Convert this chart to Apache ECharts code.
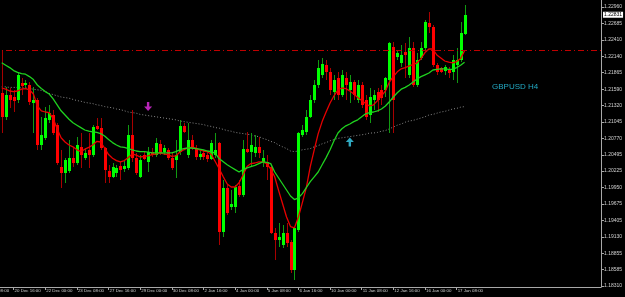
<!DOCTYPE html>
<html>
<head>
<meta charset="utf-8">
<script src="https://cdn.jsdelivr.net/npm/echarts@6/dist/echarts.min.js"></script>
<style>
html,body{margin:0;padding:0;background:#000;}
#chart{width:625px;height:297px;}
</style>
</head>
<body>
<div id="chart"></div>
<script>
// ---- data (GBPUSD H4) ----
const tickLabels = ["19 Dec 08:00","20 Dec 16:00","22 Dec 00:00","23 Dec 08:00","27 Dec 16:00","29 Dec 00:00","30 Dec 08:00","2 Jan 16:00","4 Jan 00:00","5 Jan 08:00","6 Jan 16:00","10 Jan 00:00","11 Jan 08:00","12 Jan 16:00","16 Jan 00:00","17 Jan 08:00"];
const priceTicks = [1.22960,1.22685,1.22410,1.22140,1.21865,1.21590,1.21320,1.21045,1.20770,1.20495,1.20225,1.19950,1.19675,1.19405,1.19130,1.18855,1.18585,1.18310];
const lastPrice = 1.22831;
const levelLine = 1.22247;
// [open, close, low, high]
const ohlc = [
[1.2153,1.2113,1.2086,1.2225],[1.2113,1.2150,1.2108,1.2163],[1.2150,1.2141,1.2128,1.2161],[1.2146,1.2140,1.2121,1.2158],
[1.2141,1.2183,1.2136,1.2186],[1.2170,1.2165,1.2150,1.2178],[1.2166,1.2170,1.2161,1.2175],[1.2166,1.2138,1.2133,1.2171],
[1.2136,1.2141,1.2086,1.2163],[1.2141,1.2066,1.2058,1.2145],[1.2066,1.2083,1.2058,1.2113],[1.2078,1.2111,1.2075,1.2130],
[1.2108,1.2120,1.2103,1.2133],[1.2116,1.2086,1.2083,1.2125],[1.2100,1.2036,1.2033,1.2103],[1.2030,1.2020,1.1995,1.2058],
[1.2020,1.2041,1.2003,1.2045],[1.2023,1.2045,1.2020,1.2075],[1.2045,1.2036,1.2030,1.2063],[1.2036,1.2066,1.2033,1.2080],
[1.2063,1.2050,1.2028,1.2086],[1.2045,1.2053,1.2041,1.2061],[1.2058,1.2050,1.2028,1.2086],[1.2050,1.2096,1.2046,1.2100],
[1.2098,1.2093,1.2091,1.2111],[1.2095,1.2061,1.2058,1.2111],[1.2061,1.2025,1.2003,1.2063],[1.2023,1.2013,1.2003,1.2033],
[1.2013,1.2030,1.2011,1.2036],[1.2020,1.2028,1.2013,1.2033],[1.2031,1.2025,1.2008,1.2038],[1.2026,1.2031,1.2021,1.2041],
[1.2028,1.2083,1.2025,1.2100],[1.2083,1.2045,1.2038,1.2125],[1.2045,1.2020,1.2016,1.2053],[1.2013,1.2041,1.2011,1.2050],
[1.2050,1.2043,1.2041,1.2055],[1.2038,1.2055,1.2021,1.2063],[1.2055,1.2050,1.2046,1.2061],[1.2050,1.2070,1.2046,1.2078],
[1.2068,1.2053,1.2050,1.2075],[1.2055,1.2061,1.2050,1.2066],[1.2058,1.2045,1.2041,1.2061],[1.2045,1.2028,1.2025,1.2053],
[1.2041,1.2050,1.2011,1.2075],[1.2055,1.2098,1.2050,1.2108],[1.2098,1.2088,1.2086,1.2103],[1.2050,1.2075,1.2045,1.2103],
[1.2075,1.2063,1.2058,1.2083],[1.2061,1.2046,1.2041,1.2066],[1.2046,1.2051,1.2041,1.2058],[1.2053,1.2046,1.2041,1.2058],
[1.2050,1.2043,1.2038,1.2055],[1.2043,1.2070,1.2041,1.2075],[1.2050,1.2058,1.2045,1.2086],[1.2070,1.1921,1.1900,1.2071],
[1.1921,1.1995,1.1913,1.2008],[1.1995,1.1953,1.1950,1.2000],[1.1963,1.1968,1.1958,1.1991],[1.1963,1.1996,1.1953,1.2000],
[1.1998,1.1983,1.1980,1.2008],[1.1983,1.2060,1.1980,1.2075],[1.2060,1.2055,1.2053,1.2088],[1.2055,1.2066,1.2030,1.2086],
[1.2053,1.2063,1.2046,1.2083],[1.2063,1.2053,1.2045,1.2080],[1.2038,1.2045,1.2030,1.2058],[1.2038,1.2030,1.2008,1.2050],
[1.2030,1.1920,1.1918,1.2033],[1.1920,1.1908,1.1875,1.1928],[1.1908,1.1913,1.1896,1.1936],[1.1900,1.1920,1.1895,1.1933],
[1.1920,1.1903,1.1896,1.1936],[1.1905,1.1858,1.1853,1.1908],[1.1858,1.1928,1.1841,1.1930],[1.1925,1.2086,1.1921,1.2088],
[1.2083,1.2091,1.2080,1.2100],[1.2088,1.2113,1.2083,1.2125],[1.2113,1.2141,1.2111,1.2150],[1.2141,1.2166,1.2136,1.2175],
[1.2166,1.2195,1.2161,1.2208],[1.2183,1.2201,1.2178,1.2211],[1.2200,1.2188,1.2175,1.2208],[1.2188,1.2158,1.2150,1.2195],
[1.2155,1.2175,1.2141,1.2183],[1.2178,1.2150,1.2141,1.2188],[1.2150,1.2183,1.2146,1.2191],[1.2178,1.2166,1.2141,1.2188],
[1.2158,1.2171,1.2136,1.2183],[1.2171,1.2150,1.2141,1.2175],[1.2141,1.2166,1.2136,1.2175],[1.2166,1.2133,1.2128,1.2171],
[1.2141,1.2113,1.2108,1.2150],[1.2116,1.2146,1.2103,1.2161],[1.2141,1.2150,1.2125,1.2158],[1.2155,1.2141,1.2121,1.2161],
[1.2158,1.2145,1.2133,1.2166],[1.2158,1.2178,1.2146,1.2180],[1.2175,1.2236,1.2086,1.2238],[1.2230,1.2141,1.2086,1.2238],
[1.2213,1.2220,1.2208,1.2225],[1.2203,1.2216,1.2196,1.2233],[1.2221,1.2216,1.2178,1.2236],[1.2183,1.2228,1.2178,1.2246],
[1.2228,1.2166,1.2163,1.2238],[1.2166,1.2208,1.2163,1.2220],[1.2211,1.2228,1.2208,1.2238],[1.2228,1.2271,1.2225,1.2275],
[1.2270,1.2263,1.2253,1.2288],[1.2263,1.2200,1.2196,1.2266],[1.2200,1.2188,1.2183,1.2203],[1.2195,1.2188,1.2186,1.2196],
[1.2190,1.2196,1.2183,1.2200],[1.2193,1.2186,1.2178,1.2196],[1.2188,1.2208,1.2175,1.2216],[1.2200,1.2208,1.2170,1.2228],
[1.2208,1.2253,1.2205,1.2271],[1.2251,1.22831,1.2250,1.2300]
];
const maFast = [1.2161,1.2159,1.2156,1.2155,1.2156,1.2159,1.2160,1.2158,1.2151,1.2131,1.2123,1.2121,1.2120,1.2110,1.2093,1.2078,1.2071,1.2066,1.2063,1.2058,
1.2055,1.2059,1.2062,1.2066,1.2072,1.2071,1.2061,1.2050,1.2044,1.2040,1.2038,1.2040,1.2045,1.2051,1.2049,1.2046,1.2047,1.2048,1.2050,1.2051,
1.2053,1.2051,1.2050,1.2047,1.2048,1.2054,1.2058,1.2061,1.2062,1.2061,1.2058,1.2056,1.2055,1.2050,1.2038,1.2026,1.2013,1.2001,1.1996,1.1996,
1.2003,1.2016,1.2030,1.2035,1.2036,1.2038,1.2038,1.2035,1.2026,1.2013,1.1990,1.1968,1.1946,1.1930,1.1928,1.1946,1.1970,1.1995,1.2030,1.2058,
1.2085,1.2105,1.2121,1.2136,1.2148,1.2158,1.2161,1.2160,1.2156,1.2151,1.2145,1.2140,1.2135,1.2131,1.2133,1.2140,1.2148,1.2156,1.2171,1.2180,
1.2188,1.2193,1.2195,1.2198,1.2200,1.2203,1.2210,1.2220,1.2226,1.2226,1.2216,1.2211,1.2206,1.2204,1.2203,1.2205,1.2210,1.2223];
const maMid = [1.2203,1.2199,1.2195,1.2190,1.2187,1.2185,1.2184,1.2180,1.2175,1.2166,1.2160,1.2155,1.2151,1.2143,1.2133,1.2123,1.2116,1.2109,1.2103,1.2099,
1.2095,1.2091,1.2089,1.2088,1.2087,1.2085,1.2081,1.2075,1.2070,1.2066,1.2063,1.2062,1.2060,1.2058,1.2056,1.2055,1.2055,1.2054,1.2053,1.2053,
1.2053,1.2053,1.2053,1.2053,1.2055,1.2058,1.2060,1.2061,1.2061,1.2060,1.2059,1.2058,1.2056,1.2055,1.2052,1.2043,1.2038,1.2033,1.2029,1.2025,
1.2021,1.2025,1.2028,1.2030,1.2032,1.2035,1.2038,1.2037,1.2035,1.2021,1.2011,1.2001,1.1991,1.1981,1.1975,1.1978,1.1985,1.1995,1.2005,1.2013,
1.2021,1.2033,1.2045,1.2058,1.2073,1.2086,1.2093,1.2098,1.2101,1.2105,1.2108,1.2113,1.2118,1.2120,1.2121,1.2123,1.2126,1.2131,1.2138,1.2146,
1.2153,1.2159,1.2162,1.2166,1.2171,1.2176,1.2180,1.2183,1.2186,1.2191,1.2192,1.2193,1.2193,1.2192,1.2192,1.2195,1.2199,1.2204];
const maSlow = [1.2163,1.2163,1.2162,1.2162,1.2162,1.2161,1.2161,1.2160,1.2159,1.2158,1.2157,1.2155,1.2152,1.2150,1.2148,1.2146,1.2145,1.2144,1.2142,1.2140,
1.2139,1.2137,1.2136,1.2135,1.2133,1.2132,1.2130,1.2129,1.2128,1.2126,1.2125,1.2123,1.2121,1.2120,1.2119,1.2117,1.2116,1.2115,1.2114,1.2113,
1.2112,1.2111,1.2110,1.2109,1.2108,1.2106,1.2105,1.2104,1.2103,1.2102,1.2101,1.2100,1.2098,1.2097,1.2095,1.2094,1.2092,1.2090,1.2089,1.2087,
1.2086,1.2085,1.2084,1.2083,1.2081,1.2080,1.2077,1.2075,1.2072,1.2070,1.2066,1.2063,1.2060,1.2056,1.2055,1.2056,1.2058,1.2059,1.2060,1.2063,
1.2065,1.2068,1.2070,1.2073,1.2075,1.2077,1.2078,1.2079,1.2080,1.2081,1.2082,1.2083,1.2084,1.2086,1.2086,1.2087,1.2089,1.2090,1.2093,1.2096,
1.2099,1.2101,1.2104,1.2106,1.2107,1.2109,1.2111,1.2113,1.2116,1.2117,1.2119,1.2121,1.2122,1.2124,1.2126,1.2127,1.2129,1.2130];
const sellArrows = [[37, 1.2130]];
const buyArrows = [[88, 1.2071]];
const symbolText = "GBPUSD H4";

// ---- layout helpers ----
const LEAD = 5, TRAIL = 34;
const nCat = LEAD + ohlc.length + TRAIL;
const cats = [];
for (let i = 0; i < nCat; i++) cats.push('c' + i);
const labelAt = (idx) => (idx % 8 === 0 && idx / 8 < tickLabels.length) ? tickLabels[idx / 8] : '';

const candleData = ohlc.map((d, i) => [i + LEAD, d[0], d[1], d[2], d[3]]);
const toLine = (arr) => arr.map((v, i) => [i + LEAD, v]);

const chart = echarts.init(document.getElementById('chart'), null, {renderer: 'canvas'});
const FONT = "'Liberation Sans Narrow','Liberation Sans',Arial,sans-serif";

chart.setOption({
  backgroundColor: '#000000',
  animation: false,
  title: {
    text: symbolText, left: 487, top: 78,
    textStyle: {color: '#22a9c4', fontSize: 8, fontWeight: 'normal', fontFamily: "'Liberation Sans',Arial,sans-serif"}
  },
  grid: {left: -20, right: 24, top: 0, bottom: 10, containLabel: false, outerBoundsMode: 'none'},
  xAxis: {
    type: 'category', data: cats, boundaryGap: true,
    axisLine: {lineStyle: {color: '#a8a8a8', width: 1}},
    axisTick: {show: true, alignWithLabel: true, length: 3, interval: (idx) => labelAt(idx) !== '', lineStyle: {color: '#a8a8a8'}},
    axisLabel: {show: true, interval: (idx) => labelAt(idx) !== '', formatter: (v, idx) => labelAt(idx),
      align: 'left', margin: 2, color: '#d0d0d0', fontSize: 4.4, fontFamily: FONT, padding: [0, 0, 0, 1]},
    splitLine: {show: false}
  },
  yAxis: {
    type: 'value', position: 'right', min: 1.182933, max: 1.230767, scale: true,
    axisLine: {show: true, lineStyle: {color: '#a8a8a8', width: 1}},
    axisTick: {show: true, length: 3, customValues: priceTicks, lineStyle: {color: '#a8a8a8'}},
    axisLabel: {show: true, customValues: priceTicks, formatter: (v) => v.toFixed(5), margin: 3,
      color: '#d0d0d0', fontSize: 5, fontFamily: FONT},
    splitLine: {show: false}
  },
  series: [
    {
      type: 'line', name: 'slow', data: toLine(maSlow), showSymbol: false, symbol: 'none',
      lineStyle: {color: '#8a8a8a', width: 1, type: [1, 2]}, z: 2,
      markLine: {
        silent: true, symbol: ['none', 'none'], animation: false, precision: 5,
        data: [
          {yAxis: levelLine, lineStyle: {color: '#c00000', width: 1, type: [6, 3, 1, 3]}, label: {show: false}},
          {yAxis: lastPrice, lineStyle: {color: 'rgba(0,0,0,0)', width: 0},
            label: {show: true, position: 'end', formatter: lastPrice.toFixed(5),
            backgroundColor: '#ffffff', color: '#000000', fontSize: 5, fontFamily: FONT, padding: [1, 1, 0, 1], distance: 2}}
        ]
      }
    },
    {
      type: 'custom', name: 'candles', data: candleData, z: 3,
      encode: {x: 0, y: [1, 2, 3, 4]},
      renderItem: function (params, api) {
        const x = api.value(0);
        const o = api.value(1), c = api.value(2), l = api.value(3), h = api.value(4);
        const pO = api.coord([x, o]), pC = api.coord([x, c]), pL = api.coord([x, l]), pH = api.coord([x, h]);
        const cx = Math.round(pO[0]);
        const up = c >= o;
        const top = Math.round(Math.min(pO[1], pC[1]));
        const bot = Math.round(Math.max(pO[1], pC[1]));
        const bodyH = Math.max(1, bot - top);
        return {
          type: 'group',
          children: [
            {type: 'line', shape: {x1: cx + 0.5, y1: Math.round(pH[1]), x2: cx + 0.5, y2: Math.round(pL[1])},
              style: {stroke: up ? '#119a11' : '#a80000', lineWidth: 1}},
            {type: 'rect', shape: {x: cx - 1, y: top, width: 3, height: bodyH},
              style: {fill: up ? '#00ff00' : '#ff0000'}}
          ]
        };
      }
    },
    {
      type: 'line', name: 'fast', data: toLine(maFast), showSymbol: false, symbol: 'none',
      lineStyle: {color: '#e80000', width: 1.3}, z: 4
    },
    {
      type: 'line', name: 'mid', data: toLine(maMid), showSymbol: false, symbol: 'none',
      lineStyle: {color: '#1fd21f', width: 1.3}, z: 4
    },
    {
      type: 'scatter', name: 'sell', data: sellArrows.map(d => [d[0] + LEAD, d[1]]), z: 5,
      symbol: 'path://M3.5,0 L6.5,0 L6.5,5 L10,5 L5,10 L0,5 L3.5,5 Z', symbolSize: [8, 9],
      itemStyle: {color: '#e62ee6'}
    },
    {
      type: 'scatter', name: 'buy', data: buyArrows.map(d => [d[0] + LEAD, d[1]]), z: 5,
      symbol: 'path://M5,0 L10,5 L6.5,5 L6.5,10 L3.5,10 L3.5,5 L0,5 Z', symbolSize: [8, 9],
      itemStyle: {color: '#3cd2f0'}
    }
  ]
});
</script>
</body>
</html>
